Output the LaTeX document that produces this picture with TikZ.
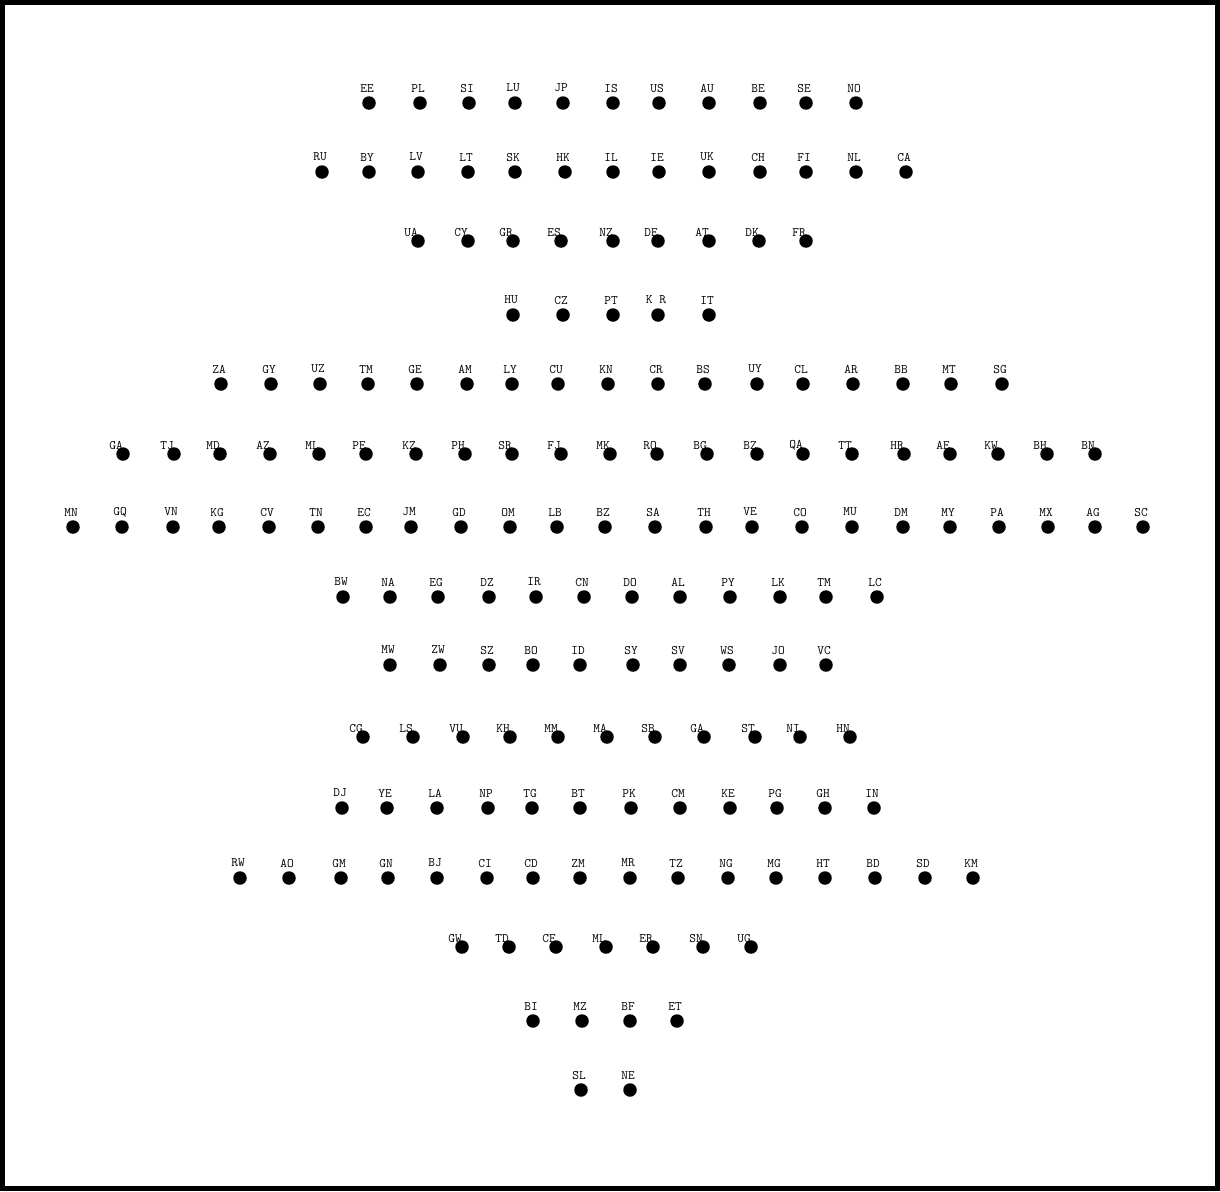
\documentclass[tikz,border=0pt]{standalone}
\begin{document}
\tikzset{
  country/.style={circle,fill=black,inner sep=0pt,minimum size=13.5},
  codetext/.style={font=\ttfamily\fontsize{13}{13}\selectfont,inner sep=0pt,anchor=center},
  code/.style={label={[codetext,shift={(-2,8)}]90:#1}},
  codeon/.style={label={[codetext,shift={(-7,1.5)}]90:#1}},
}
\begin{tikzpicture}[x=1pt,y=1pt,yscale=-1,xscale=1]
\useasboundingbox (0,0) rectangle (1220,1191);
\draw [line width=5] (2.5,2.5) rectangle (1217.5,1188.5);
% row 1
\node [country,code=EE] (EE) at (369,103) {};
\node [country,code=PL] (PL) at (420,103) {};
\node [country,code=SI] (SI) at (469,103) {};
\node [country,code=LU] (LU) at (515,103) {};
\node [country,code=JP] (JP) at (563,103) {};
\node [country,code=IS] (IS) at (613,103) {};
\node [country,code=US] (US) at (659,103) {};
\node [country,code=AU] (AU) at (709,103) {};
\node [country,code=BE] (BE) at (760,103) {};
\node [country,code=SE] (SE) at (806,103) {};
\node [country,code=NO] (NO) at (856,103) {};
% row 2
\node [country,code=RU] (RU) at (322,172) {};
\node [country,code=BY] (BY) at (369,172) {};
\node [country,code=LV] (LV) at (418,172) {};
\node [country,code=LT] (LT) at (468,172) {};
\node [country,code=SK] (SK) at (515,172) {};
\node [country,code=HK] (HK) at (565,172) {};
\node [country,code=IL] (IL) at (613,172) {};
\node [country,code=IE] (IE) at (659,172) {};
\node [country,code=UK] (UK) at (709,172) {};
\node [country,code=CH] (CH) at (760,172) {};
\node [country,code=FI] (FI) at (806,172) {};
\node [country,code=NL] (NL) at (856,172) {};
\node [country,code=CA] (CA) at (906,172) {};
% row 3
\node [country,codeon=UA] (UA) at (418,241) {};
\node [country,codeon=CY] (CY) at (468,241) {};
\node [country,codeon=GR] (GR) at (513,241) {};
\node [country,codeon=ES] (ES) at (561,241) {};
\node [country,codeon=NZ] (NZ) at (613,241) {};
\node [country,codeon=DE] (DE) at (658,241) {};
\node [country,codeon=AT] (AT) at (709,241) {};
\node [country,codeon=DK] (DK) at (759,241) {};
\node [country,codeon=FR] (FR) at (806,241) {};
% row 4
\node [country,code=HU] (HU) at (513,315) {};
\node [country,code=CZ] (CZ) at (563,315) {};
\node [country,code=PT] (PT) at (613,315) {};
\node [country,code={K R}] (KR) at (658,315) {};
\node [country,code=IT] (IT) at (709,315) {};
% row 5
\node [country,code=ZA] (ZA) at (221,384) {};
\node [country,code=GY] (GY) at (271,384) {};
\node [country,code=UZ] (UZ) at (320,384) {};
\node [country,code=TM] (TM) at (368,384) {};
\node [country,code=GE] (GE) at (417,384) {};
\node [country,code=AM] (AM) at (467,384) {};
\node [country,code=LY] (LY) at (512,384) {};
\node [country,code=CU] (CU) at (558,384) {};
\node [country,code=KN] (KN) at (608,384) {};
\node [country,code=CR] (CR) at (658,384) {};
\node [country,code=BS] (BS) at (705,384) {};
\node [country,code=UY] (UY) at (757,384) {};
\node [country,code=CL] (CL) at (803,384) {};
\node [country,code=AR] (AR) at (853,384) {};
\node [country,code=BB] (BB) at (903,384) {};
\node [country,code=MT] (MT) at (951,384) {};
\node [country,code=SG] (SG) at (1002,384) {};
% row 6
\node [country,codeon=GA] (GA) at (123,454) {};
\node [country,codeon=TJ] (TJ) at (174,454) {};
\node [country,codeon=MD] (MD) at (220,454) {};
\node [country,codeon=AZ] (AZ) at (270,454) {};
\node [country,codeon=ML] (ML) at (319,454) {};
\node [country,codeon=PE] (PE) at (366,454) {};
\node [country,codeon=KZ] (KZ) at (416,454) {};
\node [country,codeon=PH] (PH) at (465,454) {};
\node [country,codeon=SR] (SR) at (512,454) {};
\node [country,codeon=FJ] (FJ) at (561,454) {};
\node [country,codeon=MK] (MK) at (610,454) {};
\node [country,codeon=RO] (RO) at (657,454) {};
\node [country,codeon=BG] (BG) at (707,454) {};
\node [country,codeon=BZ] (BZ) at (757,454) {};
\node [country,codeon=QA] (QA) at (803,454) {};
\node [country,codeon=TT] (TT) at (852,454) {};
\node [country,codeon=HR] (HR) at (904,454) {};
\node [country,codeon=AE] (AE) at (950,454) {};
\node [country,codeon=KW] (KW) at (998,454) {};
\node [country,codeon=BH] (BH) at (1047,454) {};
\node [country,codeon=BN] (BN) at (1095,454) {};
% row 7
\node [country,code=MN] (MN) at (73,527) {};
\node [country,code=GQ] (GQ) at (122,527) {};
\node [country,code=VN] (VN) at (173,527) {};
\node [country,code=KG] (KG) at (219,527) {};
\node [country,code=CV] (CV) at (269,527) {};
\node [country,code=TN] (TN) at (318,527) {};
\node [country,code=EC] (EC) at (366,527) {};
\node [country,code=JM] (JM) at (411,527) {};
\node [country,code=GD] (GD) at (461,527) {};
\node [country,code=OM] (OM) at (510,527) {};
\node [country,code=LB] (LB) at (557,527) {};
\node [country,code=BZ] (BZb) at (605,527) {};
\node [country,code=SA] (SA) at (655,527) {};
\node [country,code=TH] (TH) at (706,527) {};
\node [country,code=VE] (VE) at (752,527) {};
\node [country,code=CO] (CO) at (802,527) {};
\node [country,code=MU] (MU) at (852,527) {};
\node [country,code=DM] (DM) at (903,527) {};
\node [country,code=MY] (MY) at (950,527) {};
\node [country,code=PA] (PA) at (999,527) {};
\node [country,code=MX] (MX) at (1048,527) {};
\node [country,code=AG] (AG) at (1095,527) {};
\node [country,code=SC] (SC) at (1143,527) {};
% row 8
\node [country,code=BW] (BW) at (343,597) {};
\node [country,code=NA] (NA) at (390,597) {};
\node [country,code=EG] (EG) at (438,597) {};
\node [country,code=DZ] (DZ) at (489,597) {};
\node [country,code=IR] (IR) at (536,597) {};
\node [country,code=CN] (CN) at (584,597) {};
\node [country,code=DO] (DO) at (632,597) {};
\node [country,code=AL] (AL) at (680,597) {};
\node [country,code=PY] (PY) at (730,597) {};
\node [country,code=LK] (LK) at (780,597) {};
\node [country,code=TM] (TMb) at (826,597) {};
\node [country,code=LC] (LC) at (877,597) {};
% row 9
\node [country,code=MW] (MW) at (390,665) {};
\node [country,code=ZW] (ZW) at (440,665) {};
\node [country,code=SZ] (SZ) at (489,665) {};
\node [country,code=BO] (BO) at (533,665) {};
\node [country,code=ID] (ID) at (580,665) {};
\node [country,code=SY] (SY) at (633,665) {};
\node [country,code=SV] (SV) at (680,665) {};
\node [country,code=WS] (WS) at (729,665) {};
\node [country,code=JO] (JO) at (780,665) {};
\node [country,code=VC] (VC) at (826,665) {};
% row 10
\node [country,codeon=CG] (CG) at (363,737) {};
\node [country,codeon=LS] (LS) at (413,737) {};
\node [country,codeon=VU] (VU) at (463,737) {};
\node [country,codeon=KH] (KH) at (510,737) {};
\node [country,codeon=MM] (MM) at (558,737) {};
\node [country,codeon=MA] (MA) at (607,737) {};
\node [country,codeon=SB] (SB) at (655,737) {};
\node [country,codeon=GA] (GAb) at (704,737) {};
\node [country,codeon=ST] (ST) at (755,737) {};
\node [country,codeon=NI] (NI) at (800,737) {};
\node [country,codeon=HN] (HN) at (850,737) {};
% row 11
\node [country,code=DJ] (DJ) at (342,808) {};
\node [country,code=YE] (YE) at (387,808) {};
\node [country,code=LA] (LA) at (437,808) {};
\node [country,code=NP] (NP) at (488,808) {};
\node [country,code=TG] (TG) at (532,808) {};
\node [country,code=BT] (BT) at (580,808) {};
\node [country,code=PK] (PK) at (631,808) {};
\node [country,code=CM] (CM) at (680,808) {};
\node [country,code=KE] (KE) at (730,808) {};
\node [country,code=PG] (PG) at (777,808) {};
\node [country,code=GH] (GH) at (825,808) {};
\node [country,code=IN] (IN) at (874,808) {};
% row 12
\node [country,code=RW] (RW) at (240,878) {};
\node [country,code=AO] (AO) at (289,878) {};
\node [country,code=GM] (GM) at (341,878) {};
\node [country,code=GN] (GN) at (388,878) {};
\node [country,code=BJ] (BJ) at (437,878) {};
\node [country,code=CI] (CI) at (487,878) {};
\node [country,code=CD] (CD) at (533,878) {};
\node [country,code=ZM] (ZM) at (580,878) {};
\node [country,code=MR] (MR) at (630,878) {};
\node [country,code=TZ] (TZ) at (678,878) {};
\node [country,code=NG] (NG) at (728,878) {};
\node [country,code=MG] (MG) at (776,878) {};
\node [country,code=HT] (HT) at (825,878) {};
\node [country,code=BD] (BD) at (875,878) {};
\node [country,code=SD] (SD) at (925,878) {};
\node [country,code=KM] (KM) at (973,878) {};
% row 13
\node [country,codeon=GW] (GW) at (462,947) {};
\node [country,codeon=TD] (TD) at (509,947) {};
\node [country,codeon=CF] (CF) at (556,947) {};
\node [country,codeon=ML] (MLb) at (606,947) {};
\node [country,codeon=ER] (ER) at (653,947) {};
\node [country,codeon=SN] (SN) at (703,947) {};
\node [country,codeon=UG] (UG) at (751,947) {};
% row 14
\node [country,code=BI] (BI) at (533,1021) {};
\node [country,code=MZ] (MZ) at (582,1021) {};
\node [country,code=BF] (BF) at (630,1021) {};
\node [country,code=ET] (ET) at (677,1021) {};
% row 15
\node [country,code=SL] (SL) at (581,1090) {};
\node [country,code=NE] (NE) at (630,1090) {};
\end{tikzpicture}
\end{document}
